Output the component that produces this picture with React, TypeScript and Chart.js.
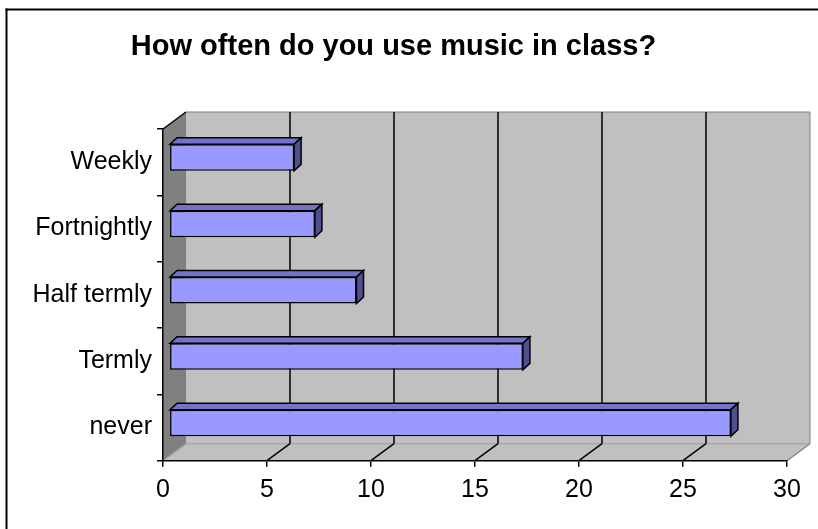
import { useEffect, useRef } from "react";
import { Chart, registerables } from "chart.js";

Chart.register(...registerables);

// Survey answers
const categories = ["Weekly", "Fortnightly", "Half termly", "Termly", "never"];
const responses = [6, 7, 9, 17, 27];
const valueMin = 0;
const valueMax = 30;
const valueStep = 5;

const FONT = '"Liberation Sans", Arial, Helvetica, sans-serif';

const WALL = "#c0c0c0";
const FLOOR = "#c0c0c0";
const SIDE_WALL = "#808080";
const EDGE = "#808080";
const BAR_FRONT = "#9999ff";
const BAR_TOP = "#7373cc";
const BAR_SIDE = "#505090";

// oblique projection: offset from the front plane to the back wall
const depth = { x: 23, y: -17 };
// where the bars sit inside the box, and how thick they are
const barShift = { x: 6.3, y: -4.6 };
const barDepth = { x: 7, y: -6.5 };

type Pt = [number, number];

function poly(ctx: CanvasRenderingContext2D, pts: Pt[], fill?: string, stroke?: string, lw = 1) {
  ctx.beginPath();
  ctx.moveTo(pts[0][0], pts[0][1]);
  for (let i = 1; i < pts.length; i++) ctx.lineTo(pts[i][0], pts[i][1]);
  ctx.closePath();
  if (fill) {
    ctx.fillStyle = fill;
    ctx.fill();
  }
  if (stroke) {
    ctx.strokeStyle = stroke;
    ctx.lineWidth = lw;
    ctx.lineJoin = "miter";
    ctx.stroke();
  }
}

function line(ctx: CanvasRenderingContext2D, a: Pt, b: Pt, color: string, lw: number) {
  ctx.beginPath();
  ctx.moveTo(a[0], a[1]);
  ctx.lineTo(b[0], b[1]);
  ctx.strokeStyle = color;
  ctx.lineWidth = lw;
  ctx.stroke();
}

const box3d = {
  id: "box3d",
  beforeDraw(chart: any) {
    const { ctx, chartArea: a, scales } = chart;
    const xs = scales.x;
    const L = a.left, R = a.right, T = a.top, B = a.bottom;
    const dx = depth.x, dy = depth.y;
    ctx.save();

    // back wall
    poly(ctx, [[L + dx, T + dy], [R + dx, T + dy], [R + dx, B + dy], [L + dx, B + dy]], WALL);
    // floor
    poly(ctx, [[L, B], [R, B], [R + dx, B + dy], [L + dx, B + dy]], FLOOR);
    // left side wall
    poly(ctx, [[L, T], [L + dx, T + dy], [L + dx, B + dy], [L, B]], SIDE_WALL);

    // wall outlines
    line(ctx, [L + dx, T + dy], [R + dx, T + dy], EDGE, 1);
    line(ctx, [R + dx, T + dy], [R + dx, B + dy], EDGE, 1);
    line(ctx, [L + dx, B + dy], [R + dx, B + dy], "#a8a8a8", 1.5);
    line(ctx, [R, B], [R + dx, B + dy], EDGE, 1.2);
    line(ctx, [L, B], [L + dx, B + dy], "#a0a0a0", 1.2);

    // gridlines on the back wall, continued across the floor
    xs.ticks.forEach((t: any) => {
      const v = t.value;
      if (v <= valueMin || v >= valueMax) return;
      const px = xs.getPixelForValue(v);
      line(ctx, [px + dx, T + dy], [px + dx, B + dy], "#000", 1.5);
      line(ctx, [px, B], [px + dx, B + dy], "#000", 1.5);
    });

    // top edge of the side wall
    line(ctx, [L, T], [L + dx, T + dy], "#000", 1.5);
    ctx.restore();
  },
  beforeDatasetsDraw(chart: any) {
    chart.ctx.save();
    chart.ctx.translate(barShift.x, barShift.y);
  },
  afterDatasetsDraw(chart: any) {
    const ctx = chart.ctx;
    const meta = chart.getDatasetMeta(0);
    const bx = barDepth.x, by = barDepth.y;
    meta.data.forEach((el: any) => {
      const { x, y, base, height } = el.getProps(["x", "y", "base", "height"], true);
      const top = y - height / 2;
      const bottom = y + height / 2;
      poly(ctx, [[base, top], [x, top], [x + bx, top + by], [base + bx, top + by]], BAR_TOP, "#000", 1.5);
      poly(ctx, [[x, top], [x + bx, top + by], [x + bx, bottom + by], [x, bottom]], BAR_SIDE, "#000", 1.5);
    });
    ctx.restore();
  },
  afterDraw(chart: any) {
    const ctx = chart.ctx;
    ctx.save();
    line(ctx, [5.5, 9.5], [chart.width, 9.5], "#000", 2);
    line(ctx, [6.5, 8.5], [6.5, chart.height], "#000", 2);
    ctx.restore();
  },
};

export default function App() {
  const ref = useRef<HTMLCanvasElement | null>(null);

  useEffect(() => {
    document.body.style.margin = "0";
    const canvas = ref.current;
    if (!canvas) return;
    const chart = new Chart(canvas, {
      type: "bar",
      data: {
        labels: categories,
        datasets: [
          {
            data: responses,
            backgroundColor: BAR_FRONT,
            borderColor: "#000",
            borderWidth: 1.5,
            borderSkipped: false,
            barPercentage: 0.4,
            categoryPercentage: 1,
          },
        ],
      },
      options: {
        indexAxis: "y",
        responsive: false,
        animation: false,
        events: [],
        layout: { padding: { left: 0, right: 31, top: 0, bottom: 0 } },
        plugins: {
          legend: { display: false },
          tooltip: { enabled: false },
          title: {
            display: true,
            text: "How often do you use music in class?",
            color: "#000",
            font: { family: FONT, size: 29, weight: "bold", lineHeight: 1.2 },
            padding: { top: 30, bottom: 64.2 },
          },
        },
        scales: {
          x: {
            type: "linear",
            min: valueMin,
            max: valueMax,
            ticks: {
              stepSize: valueStep,
              color: "#000",
              padding: 8,
              font: { family: FONT, size: 25 },
              maxRotation: 0,
            },
            grid: {
              drawOnChartArea: false,
              drawTicks: true,
              tickLength: 6,
              color: "#000",
              lineWidth: 1.5,
            },
            border: { display: true, color: "#000", width: 1.5 },
            afterFit: (s: any) => {
              s.height = 68.3;
            },
          },
          y: {
            type: "category",
            ticks: {
              color: "#000",
              padding: 5,
              font: { family: FONT, size: 25 },
            },
            grid: {
              drawOnChartArea: false,
              drawTicks: true,
              tickLength: 6,
              color: "#000",
              lineWidth: 1.5,
              offset: true,
            },
            border: { display: true, color: "#000", width: 1.5 },
            afterFit: (s: any) => {
              s.width = 163;
            },
          },
        },
      },
      plugins: [box3d],
    } as any);
    return () => chart.destroy();
  }, []);

  return (
    <div style={{ position: "absolute", left: 0, top: 0, width: 818, height: 529, background: "#fff" }}>
      <canvas ref={ref} width={818} height={529} />
    </div>
  );
}
